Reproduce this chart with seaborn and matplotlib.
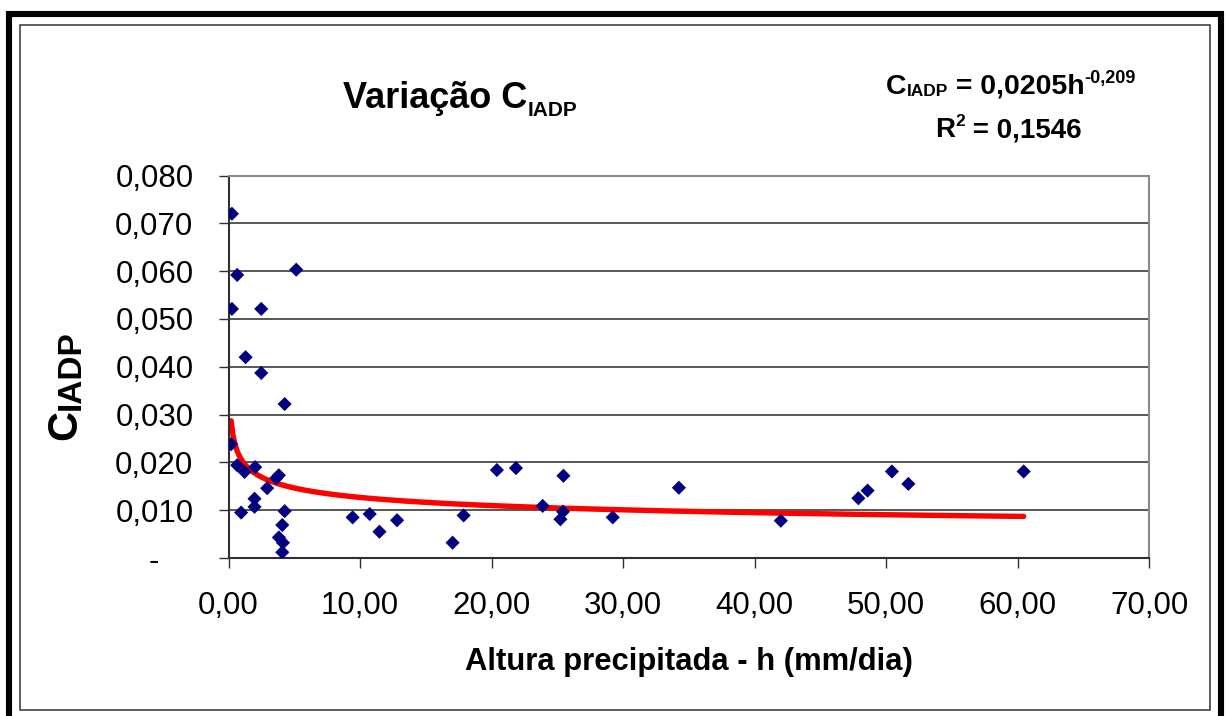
import numpy as np
import pandas as pd
import matplotlib
matplotlib.use("Agg")
import matplotlib.pyplot as plt
import seaborn as sns
from matplotlib.patches import Rectangle
from matplotlib.ticker import FixedLocator, FuncFormatter

# Observed daily rainfall depth (mm/dia) and the matching C_IADP coefficient
h = [0.26, 0.66, 5.15, 0.26, 2.49, 1.30, 2.49, 4.27, 0.20, 0.66,
     1.22, 2.03, 3.83, 3.63, 2.94, 1.98, 1.98, 0.96, 4.27, 4.09,
     3.83, 4.14, 4.09, 9.44, 10.74, 11.48, 12.82, 17.04, 17.88, 20.41,
     21.86, 23.89, 25.47, 25.24, 25.44, 29.22, 34.25, 42.00, 47.90, 48.60,
     50.45, 51.70, 60.47]
c = [0.0720, 0.0592, 0.0603, 0.0521, 0.0521, 0.0420, 0.0387, 0.0322, 0.0238, 0.0194,
     0.0180, 0.0190, 0.0173, 0.0167, 0.0146, 0.0124, 0.0107, 0.0095, 0.0098, 0.0069,
     0.0043, 0.0032, 0.0012, 0.0085, 0.0092, 0.0055, 0.0079, 0.0032, 0.0089, 0.0184,
     0.0188, 0.0109, 0.0172, 0.0081, 0.0097, 0.0085, 0.0147, 0.0078, 0.0125, 0.0141,
     0.0181, 0.0155, 0.0181]

# Power trend fitted to the data: C = a * h^b
coef_a = 0.0205
coef_b = -0.209
r2 = 0.1546

x_ticks = [0, 10, 20, 30, 40, 50, 60, 70]
y_ticks = [0.0, 0.01, 0.02, 0.03, 0.04, 0.05, 0.06, 0.07, 0.08]

sns.set_theme(style="white")
plt.rcParams["font.family"] = ["Liberation Sans", "DejaVu Sans"]

W, H = 1226, 716
fig = plt.figure(figsize=(W / 100, H / 100), dpi=100)
fig.patch.set_facecolor("white")

ax = fig.add_axes([228.5 / W, 1 - 558 / H, (1149 - 228.5) / W, (558 - 175.5) / H])

df = pd.DataFrame({"h": h, "c": c})
trend_h = np.linspace(min(h), max(h), 400)
trend = pd.DataFrame({"h": trend_h, "c": coef_a * trend_h ** coef_b})

sns.lineplot(data=trend, x="h", y="c", color="#ff0000", lw=3.9, ax=ax, zorder=2)
sns.scatterplot(data=df, x="h", y="c", marker="D", s=52, color="#000080",
                edgecolor="none", linewidth=0, ax=ax, zorder=3)

ax.set_xlim(x_ticks[0], x_ticks[-1])
ax.set_ylim(y_ticks[0], y_ticks[-1])
ax.xaxis.set_major_locator(FixedLocator(x_ticks))
ax.yaxis.set_major_locator(FixedLocator(y_ticks))
ax.xaxis.set_major_formatter(FuncFormatter(lambda v, p: f"{v:.2f}".replace(".", ",")))
ax.yaxis.set_major_formatter(FuncFormatter(
    lambda v, p: "-    " if abs(v) < 1e-12 else f"{v:.3f}".replace(".", ",")))

ax.tick_params(axis="both", direction="out", length=7.2, width=1.0, color="#303030",
               labelsize=22.5, labelcolor="black")
ax.tick_params(axis="x", pad=16.5)
ax.tick_params(axis="y", pad=18)
ax.xaxis.set_ticks_position("bottom")
ax.yaxis.set_ticks_position("left")

ax.set_axisbelow(True)
ax.yaxis.grid(True, color="#3a3a3a", lw=1.2)
ax.xaxis.grid(False)
for side in ("left", "bottom"):
    ax.spines[side].set_color("#303030")
    ax.spines[side].set_linewidth(1.5)
for side in ("top", "right"):
    ax.spines[side].set_color("#8a8a8a")
    ax.spines[side].set_linewidth(1.5)
ax.set_xlabel("")
ax.set_ylabel("")

renderer = fig.canvas.get_renderer()


def text_run(x, y, parts, rotation=0):
    """Write bold text pieces one after another, each with its own size and offset."""
    for s, size, dy in parts:
        if rotation == 0:
            t = fig.text(x / W, 1 - (y + dy) / H, s, fontsize=size, fontweight="bold",
                         ha="left", va="baseline", color="black")
            bb = t.get_window_extent(renderer)
            x = bb.x1
        else:
            t = fig.text((x + dy) / W, 1 - y / H, s, fontsize=size, fontweight="bold",
                         rotation=90, rotation_mode="anchor", ha="left", va="baseline",
                         color="black")
            bb = t.get_window_extent(renderer)
            y = H - bb.y1


# Title
text_run(343, 108, [("Variação C", 26, 0), ("IADP", 15, 8)])

# Trend equation and coefficient of determination
b_txt = f"{coef_b:.3f}".replace(".", ",")
a_txt = f"{coef_a:.4f}".replace(".", ",")
r2_txt = f"{r2:.4f}".replace(".", ",")
text_run(886, 94, [("C", 20.5, 0), ("IADP", 12.5, 2), (f" = {a_txt}h", 20.5, 0),
                   (b_txt, 13, -11)])
text_run(935, 137, [("R", 20, 0), ("2", 12.5, -11), (f" = {r2_txt}", 20, 0)])

# Axis titles
fig.text(688.5 / W, 1 - 670 / H, "Altura precipitada - h (mm/dia)", fontsize=22.3,
         fontweight="bold", ha="center", va="baseline", color="black")
text_run(76, 440, [("C", 30, 0), ("IADP", 24, 4)], rotation=90)

# Chart frames
fig.add_artist(Rectangle((9 / W, -6 / H), 1212 / W, 708 / H, transform=fig.transFigure,
                         fill=False, ec="black", lw=4.4, clip_on=False))
fig.add_artist(Rectangle((19.5 / W, 6 / H), (1210 - 19.5) / W, (710 - 24.5) / H,
                         transform=fig.transFigure, fill=False, ec="#333333", lw=1.1,
                         clip_on=False))

fig.savefig("out.png", dpi=100)
